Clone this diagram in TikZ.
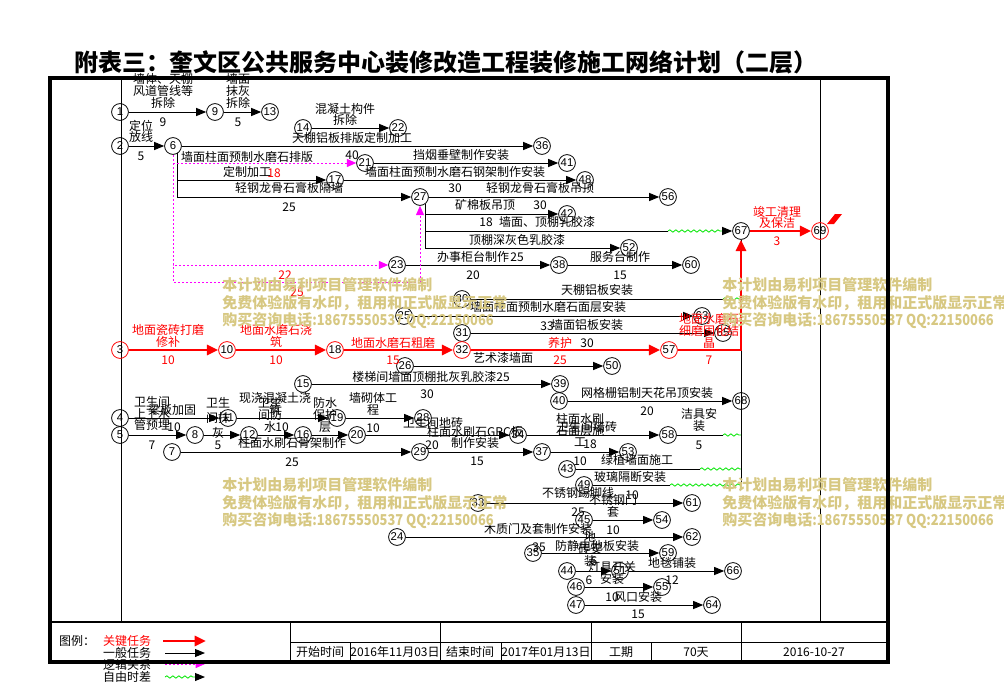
\documentclass[tikz,border=0pt]{standalone}
\usepackage{fontspec}
\setmainfont{Noto Sans CJK SC}
\newfontfamily\numf{Liberation Sans}
\usetikzlibrary{arrows.meta,decorations.pathmorphing,calc}
\definecolor{wmc}{RGB}{215,200,130}
\definecolor{gr}{RGB}{0,230,0}
\definecolor{mg}{RGB}{255,0,255}
\newcommand{\wmtext}{本计划由易利项目管理软件编制\\免费体验版有水印，租用和正式版显示正常\\购买咨询电话\scalebox{0.86}[1]{:18675550537 QQ:22150066}}
\begin{document}
\begin{tikzpicture}[x=0.75pt,y=-0.75pt,
 nd/.style={circle,draw,line width=0.6pt,minimum size=12.6pt,inner sep=0pt,font=\numf\fontsize{8.5}{9}\selectfont},
 cn/.style={nd,draw=red},
 lb/.style={inner sep=0pt,font=\fontsize{9}{8.7}\selectfont,align=center},
 lr/.style={lb,text=red},
 ln/.style={line width=0.7pt},
 ar/.style={ln,-{Triangle[length=7.5pt,width=6pt]}},
 cr/.style={red,line width=2.2pt,-{Triangle[length=8.5pt,width=7.5pt]}},
 dl/.style={mg,line width=0.7pt,dash pattern=on 1.5pt off 1.5pt},
 da/.style={dl,-{Triangle[length=7pt,width=6pt]}},
 wv/.style={gr,line width=0.6pt,decorate,decoration={snake,amplitude=0.9pt,segment length=4.5pt}},
 wm/.style={anchor=west,inner sep=0pt,text=wmc,align=left,font=\bfseries\fontsize{11.25}{13.1}\selectfont},
 frm/.style={line width=3pt},
 tl/.style={line width=0.6pt},
]
\useasboundingbox (0,0) rectangle (1004,682);
% title
\node[inner sep=0pt,font=\bfseries\fontsize{18}{20}\selectfont] (title) at (446,62) {附表三：奎文区公共服务中心装修改造工程装修施工网络计划（二层）};
% frame
\draw[tl] (121,78) -- (121,622);
\draw[tl] (820,78) -- (820,622);
\draw[line width=1.5pt] (50,622) -- (888,622);
\draw[tl] (290,622) -- (290,662);
\draw[tl] (290,642.5) -- (888,642.5);
\draw[tl] (440,622) -- (440,662);
\draw[tl] (591,622) -- (591,662);
\draw[tl] (741,622) -- (741,662);
\draw[tl] (350,642.5) -- (350,662);
\draw[tl] (501,642.5) -- (501,662);
\draw[tl] (651,642.5) -- (651,662);
% nodes
\node[nd] (n1) at (120,112) {1};
\node[nd] (n9) at (215,112) {9};
\node[nd] (n13) at (270,112) {13};
\node[nd] (n2) at (120,146) {2};
\node[nd] (n6) at (173,146) {6};
\node[nd] (n14) at (303,128) {14};
\node[nd] (n22) at (398,128) {22};
\node[nd] (n36) at (542,146) {36};
\node[nd] (n21) at (365,163) {21};
\node[nd] (n41) at (567,163) {41};
\node[nd] (n17) at (335,180) {17};
\node[nd] (n48) at (585,180) {48};
\node[nd] (n27) at (420,197) {27};
\node[nd] (n56) at (668,197) {56};
\node[nd] (n42) at (567,214) {42};
\node[nd] (n67) at (741,231) {67};
\node[cn] (n69) at (820,231) {69};
\node[nd] (n52) at (629,248) {52};
\node[nd] (n23) at (397,265) {23};
\node[nd] (n38) at (559,265) {38};
\node[nd] (n60) at (691,265) {60};
\node[nd] (n30) at (462,299) {30};
\node[nd] (n25) at (404,316) {25};
\node[nd] (n63) at (702,316) {63};
\node[nd] (n31) at (462,333) {31};
\node[nd] (n65) at (723,333) {65};
\node[cn] (n3) at (120,350) {3};
\node[cn] (n10) at (227,350) {10};
\node[cn] (n18) at (335,350) {18};
\node[cn] (n32) at (462,350) {32};
\node[cn] (n57) at (669,350) {57};
\node[nd] (n26) at (405,366) {26};
\node[nd] (n50) at (612,366) {50};
\node[nd] (n15) at (303,384) {15};
\node[nd] (n39) at (560,384) {39};
\node[nd] (n40) at (559,401) {40};
\node[nd] (n68) at (741,401) {68};
\node[nd] (n4) at (120,418) {4};
\node[nd] (n11) at (228,418) {11};
\node[nd] (n19) at (337,418) {19};
\node[nd] (n28) at (423,418) {28};
\node[nd] (n5) at (120,435) {5};
\node[nd] (n8) at (195,435) {8};
\node[nd] (n12) at (249,435) {12};
\node[nd] (n16) at (303,435) {16};
\node[nd] (n20) at (357,435) {20};
\node[nd] (n34) at (518,435) {34};
\node[nd] (n58) at (668,435) {58};
\node[nd] (n7) at (172,452) {7};
\node[nd] (n29) at (420,452) {29};
\node[nd] (n37) at (542,452) {37};
\node[nd] (n53) at (628,452) {53};
\node[nd] (n43) at (567,469) {43};
\node[nd] (n49) at (584,485) {49};
\node[nd] (n33) at (478,503) {33};
\node[nd] (n61) at (692,503) {61};
\node[nd] (n45) at (584,520) {45};
\node[nd] (n54) at (662,520) {54};
\node[nd] (n24) at (397,537) {24};
\node[nd] (n62) at (692,537) {62};
\node[nd] (n35) at (533,553) {35};
\node[nd] (n59) at (668,553) {59};
\node[nd] (n44) at (567,571) {44};
\node[nd] (n51) at (620,571) {51};
\node[nd] (n66) at (733,571) {66};
\node[nd] (n46) at (576,587) {46};
\node[nd] (n55) at (662,587) {55};
\node[nd] (n47) at (576,605) {47};
\node[nd] (n64) at (712,605) {64};
% coordinates
\coordinate (c6) at (177,153);
\coordinate (d6) at (173,155);
\coordinate (d27) at (420,282);
\coordinate (c27) at (425,204);
\coordinate (w27) at (668,231);
\coordinate (g27) at (722,231);
\coordinate (w30) at (723,299);
\coordinate (v30) at (741,299);
\coordinate (w58) at (723,435);
\coordinate (v58) at (741,435);
\coordinate (w43) at (700,469);
\coordinate (v43) at (741,469);
\coordinate (w49) at (670,485);
\coordinate (v49) at (741,485);
% edges
\draw[ar] (n1) -- (n9);
\draw[ar] (n9) -- (n13);
\draw[ar] (n2) -- (n6);
\draw[ar] (n14) -- (n22);
\draw[ar] (n6) -- (n36);
\draw[ar] (n21) -- (n41);
\draw[ar] (n17) -- (n48);
\draw[ar] (c6) |- (n17);
\draw[ar] (c6) |- (n27);
\draw[ar] (n27) -- (n56);
\draw[ar] (c27) |- (n42);
\draw[ar] (c27) |- (n52);
\draw[ln] (c27) |- (w27);
\draw[wv] (w27) -- (g27);
\draw[ar] (g27) -- (n67);
\draw[ar] (n23) -- (n38);
\draw[ar] (n38) -- (n60);
\draw[da] (d6) |- (n21);
\draw[da] (d6) |- (n23);
\draw[dl] (d6) |- (d27);
\draw[da] (d27) -- (n27);
\draw[ln] (n30) -- (w30);
\draw[wv] (w30) -- (v30);
\draw[ar] (n25) -- (n63);
\draw[ar] (n31) -- (n65);
\draw[ar] (n26) -- (n50);
\draw[ar] (n15) -- (n39);
\draw[ar] (n40) -- (n68);
\draw[ar] (n4) -- (n11);
\draw[ar] (n11) -- (n19);
\draw[ar] (n19) -- (n28);
\draw[ar] (n5) -- (n8);
\draw[ar] (n8) -- (n12);
\draw[ar] (n12) -- (n16);
\draw[ar] (n16) -- (n20);
\draw[ar] (n20) -- (n34);
\draw[ar] (n34) -- (n58);
\draw[ln] (n58) -- (w58);
\draw[wv] (w58) -- (v58);
\draw[ar] (n7) -- (n29);
\draw[ar] (n29) -- (n37);
\draw[ar] (n37) -- (n53);
\draw[ln] (n43) -- (w43);
\draw[wv] (w43) -- (v43);
\draw[ln] (n49) -- (w49);
\draw[wv] (w49) -- (v49);
\draw[ln] (v49) -- (n67);
\draw[ar] (n33) -- (n61);
\draw[ar] (n45) -- (n54);
\draw[ar] (n24) -- (n62);
\draw[ar] (n35) -- (n59);
\draw[ar] (n44) -- (n51);
\draw[ar] (n51) -- (n66);
\draw[ar] (n46) -- (n55);
\draw[ar] (n47) -- (n64);
\draw[cr] (n3) -- (n10);
\draw[cr] (n10) -- (n18);
\draw[cr] (n18) -- (n32);
\draw[cr] (n32) -- (n57);
\draw[cr] (n57) -| (n67);
\draw[cr] (n67) -- (n69);
\fill[red] (827,224) -- (835,214) -- (842,214) -- (834,224) -- cycle;
% labels
\node[lb] (t1) at (163,91) {墙体、天棚\\风道管线等\\拆除};
\node[lb] (t2) at (163,122) {9};
\node[lb] (t3) at (238,91) {墙面\\抹灰\\拆除};
\node[lb] (t4) at (238,122) {5};
\node[lb] (t5) at (345,114.5) {混凝土构件\\拆除};
\node[lb] (t6) at (141,131.5) {定位\\放线};
\node[lb] (t7) at (141,156) {5};
\node[lb] (t8) at (352,138) {天棚铝板排版定制加工};
\node[lb] (t9) at (247,157) {墙面柱面预制水磨石排版};
\node[lb] (t10) at (247,172) {定制加工};
\node[lr] (t11) at (274,173) {18};
\node[lb] (t12) at (352,155) {40};
\node[lb] (t13) at (461,155) {挡烟垂壁制作安装};
\node[lb] (t14) at (455,172) {墙面柱面预制水磨石钢架制作安装};
\node[lb] (t15) at (289,188) {轻钢龙骨石膏板隔墙};
\node[lb] (t16) at (289,207) {25};
\node[lb] (t17) at (455,188) {30};
\node[lb] (t18) at (540,188) {轻钢龙骨石膏板吊顶};
\node[lb] (t19) at (485,205) {矿棉板吊顶};
\node[lb] (t20) at (540,205) {30};
\node[lb] (t21) at (486,222) {18};
\node[lb] (t22) at (547,222) {墙面、顶棚乳胶漆};
\node[lb] (t23) at (517,240) {顶棚深灰色乳胶漆};
\node[lb] (t24) at (473,257) {办事柜台制作};
\node[lb] (t25) at (517,257) {25};
\node[lb] (t26) at (473,275) {20};
\node[lb] (t27) at (620,257) {服务台制作};
\node[lb] (t28) at (620,275) {15};
\node[lr] (t29) at (285,275) {22};
\node[lr] (t30) at (297,292) {25};
\node[lb] (t31) at (597,290) {天棚铝板安装};
\node[lb] (t32) at (548,307) {墙面柱面预制水磨石面层安装};
\node[lb] (t33) at (547,326) {33};
\node[lb] (t34) at (587,325) {墙面铝板安装};
\node[lr] (t35) at (709,331) {地面水磨石\\细磨固化结\\晶};
\node[lr] (t36) at (709,360) {7};
\node[lr] (t37) at (560,343) {养护};
\node[lb] (t38) at (587,343) {30};
\node[lr] (t39) at (560,360) {25};
\node[lr] (t40) at (168,336) {地面瓷砖打磨\\修补};
\node[lr] (t41) at (168,360) {10};
\node[lr] (t42) at (276,336) {地面水磨石浇\\筑};
\node[lr] (t43) at (276,360) {10};
\node[lr] (t44) at (393,343) {地面水磨石粗磨};
\node[lr] (t45) at (393,360) {15};
\node[lb] (t46) at (503,358) {艺术漆墙面};
\node[lb] (t47) at (431,377) {楼梯间墙面顶棚批灰乳胶漆25};
\node[lb] (t48) at (427,394) {30};
\node[lb] (t49) at (647,393) {网格栅铝制天花吊顶安装};
\node[lb] (t50) at (647,411) {20};
\node[lb] (t51) at (152,413.5) {卫生间\\上下水\\管预埋};
\node[lb] (t52) at (172,410) {梁板加固};
\node[lb] (t53) at (174,427) {10};
\node[lb] (t54) at (152,445) {7};
\node[lb,font=\fontsize{9}{11.25}\selectfont] (t55) at (218,418) {卫生\\间抹\\灰};
\node[lb] (t56) at (218,445) {5};
\node[lb] (t57) at (275,404) {现浇混凝土浇\\筑};
\node[lb] (t58) at (270,415) {卫生\\间防\\水};
\node[lb] (t59) at (282,427) {10};
\node[lb] (t60) at (325,415) {防水\\保护\\层};
\node[lb] (t61) at (373,404) {墙砌体工\\程};
\node[lb] (t62) at (373,428) {10};
\node[lb] (t63) at (433,423) {卫生间地砖};
\node[lb] (t64) at (432,445) {20};
\node[lb] (t65) at (475,437.5) {柱面水刷石GRC板\\制作安装};
\node[lb] (t66) at (477,461) {15};
\node[lb] (t67) at (580,430) {柱面水刷\\石面层施\\工};
\node[lb] (t68) at (587,427) {卫生间墙砖};
\node[lb] (t69) at (590,444) {18};
\node[lb] (t70) at (699,420) {洁具安\\装};
\node[lb] (t71) at (699,445) {5};
\node[lb] (t72) at (292,443) {柱面水刷石骨架制作};
\node[lb] (t73) at (292,462) {25};
\node[lb] (t74) at (580,461) {10};
\node[lb] (t75) at (637,460) {绿植墙面施工};
\node[lb] (t76) at (630,477) {玻璃隔断安装};
\node[lb] (t77) at (578,493) {不锈钢踢脚线};
\node[lb] (t78) at (632,495) {10};
\node[lb] (t79) at (613,506) {不锈钢门\\套};
\node[lb] (t80) at (578,512) {25};
\node[lb] (t81) at (613,530) {10};
\node[lb] (t82) at (538,529) {木质门及套制作安装};
\node[lb] (t83) at (539,547) {35};
\node[lb] (t84) at (590,549) {地\\砖安\\装};
\node[lb] (t85) at (594,561) {6};
\node[lb] (t86) at (597,546) {防静电地板安装};
\node[lb] (t87) at (612,573) {灯具开关\\安装};
\node[lb] (t88) at (589,580) {6};
\node[lb] (t89) at (672,563) {地毯铺装};
\node[lb] (t90) at (672,580) {12};
\node[lb] (t91) at (612,597) {10};
\node[lb] (t92) at (638,597) {风口安装};
\node[lb] (t93) at (638,614) {15};
\node[lr] (t94) at (777,217.5) {竣工清理\\及保洁};
\node[lr] (t95) at (777,241) {3};
% watermarks
\node[wm] (wm1) at (222,303.5) {\wmtext};
\node[wm] (wm2) at (722,303.5) {\wmtext};
\node[wm] (wm3) at (222,503.5) {\wmtext};
\node[wm] (wm4) at (722,503.5) {\wmtext};
% table text
\node[lb] (k1) at (320,652) {开始时间};
\node[lb] (k2) at (395,652) {2016年11月03日};
\node[lb] (k3) at (470,652) {结束时间};
\node[lb] (k4) at (546,652) {2017年01月13日};
\node[lb] (k5) at (621,652) {工期};
\node[lb] (k6) at (696,652) {70天};
\node[lb] (k7) at (814,652) {2016-10-27};
% legend
\node[lb] (g0) at (77,641) {图例：};
\node[lr] (g1) at (127,641) {关键任务};
\node[lb] (g2) at (127,653) {一般任务};
\node[lb] (g3) at (127,665) {逻辑关系};
\node[lb] (g4) at (127,677) {自由时差};
\coordinate (la1) at (163,641); \coordinate (lb1) at (206,641);
\coordinate (la2) at (165,653); \coordinate (lb2) at (205,653);
\coordinate (la3) at (165,664); \coordinate (lb3) at (205,664);
\coordinate (la4) at (165,677); \coordinate (lm4) at (195,677); \coordinate (lb4) at (205,677);
\draw[cr] (la1) -- (lb1);
\draw[ar] (la2) -- (lb2);
\draw[da] (la3) -- (lb3);
\draw[wv] (la4) -- (lm4);
\draw[ar] (lm4) -- (lb4);
% outer frame
\draw[frm] (50,78) rectangle (888,662);
\end{tikzpicture}
\end{document}
